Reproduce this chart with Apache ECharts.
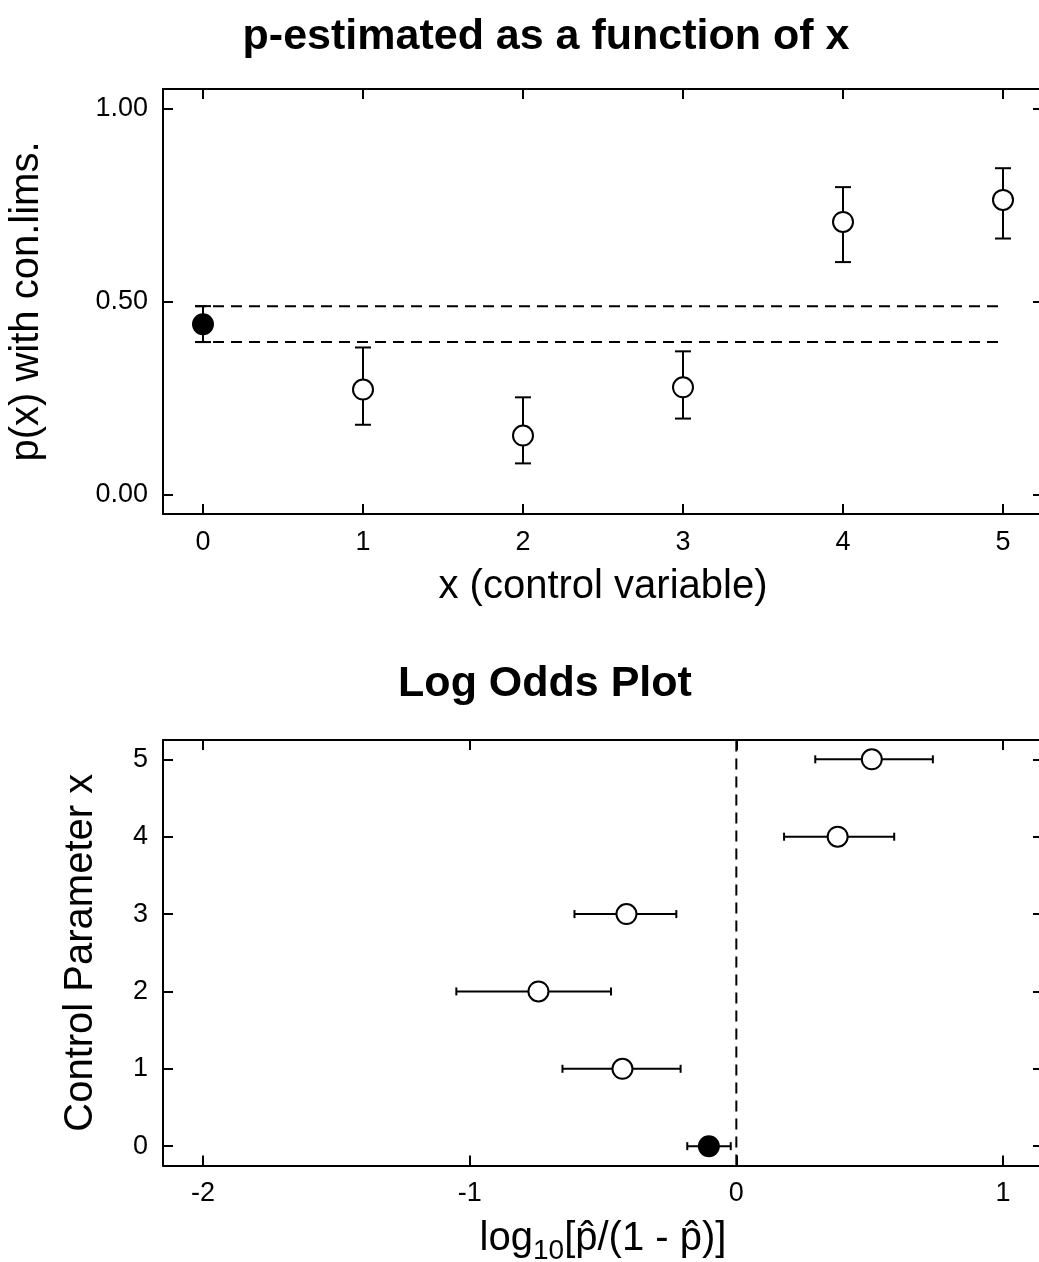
<!DOCTYPE html>
<html>
<head>
<meta charset="utf-8">
<script src="https://cdn.jsdelivr.net/npm/echarts@6/dist/echarts.min.js"></script>
<style>
  html, body { margin: 0; padding: 0; background: #fff; overflow: hidden; }
  #chart { width: 1046px; height: 1262px; }
</style>
</head>
<body>
<div id="chart"></div>
<script>
// Control variable levels; level 0 is the reference (drawn filled)
const xValues = [0, 1, 2, 3, 4, 5];
// Estimated proportion with lower / upper confidence limits
const pHat   = [0.441, 0.272, 0.153, 0.278, 0.706, 0.763];
const pLower = [0.395, 0.181, 0.081, 0.197, 0.602, 0.663];
const pUpper = [0.488, 0.381, 0.252, 0.371, 0.796, 0.845];
// Log odds log10[p/(1-p)] with limits
const logOdds  = [-0.103, -0.427, -0.742, -0.412, 0.380, 0.508];
const logLower = [-0.184, -0.652, -1.050, -0.607, 0.179, 0.296];
const logUpper = [-0.021, -0.209, -0.470, -0.225, 0.592, 0.737];
// Tick values
const pTicks = [0, 0.5, 1];
const xTicks = [0, 1, 2, 3, 4, 5];
const logTicks = [-2, -1, 0, 1];
const paramTicks = [0, 1, 2, 3, 4, 5];
const refIndex = 0;

const FONT = "'Liberation Sans', Arial, Helvetica, sans-serif";
const BLACK = '#000';

function frameAxis(extra) {
  return Object.assign({
    type: 'value',
    axisLine: { show: true, onZero: false, lineStyle: { color: BLACK, width: 2 } },
    axisTick: { show: true, inside: true, length: 10, lineStyle: { color: BLACK, width: 2 } },
    axisLabel: { show: false },
    splitLine: { show: false }
  }, extra);
}
function withTicks(ax, values, labels, fmt) {
  ax.axisTick.customValues = values;
  if (labels) {
    ax.axisLabel = {
      show: true, customValues: values, margin: 15,
      fontFamily: FONT, fontSize: 27, color: BLACK,
      formatter: fmt || (v => String(v))
    };
  }
  return ax;
}

const nameStyle = { fontFamily: FONT, fontSize: 40, color: BLACK };

// Vertical error bars (top panel)
function vBars(params, api) {
  const x = api.value(0), lo = api.coord([x, api.value(1)]), hi = api.coord([x, api.value(2)]);
  const cap = 8;
  const st = { stroke: BLACK, lineWidth: 2 };
  return { type: 'group', children: [
    { type: 'line', shape: { x1: lo[0], y1: lo[1], x2: hi[0], y2: hi[1] }, style: st },
    { type: 'line', shape: { x1: lo[0] - cap, y1: lo[1], x2: lo[0] + cap, y2: lo[1] }, style: st },
    { type: 'line', shape: { x1: hi[0] - cap, y1: hi[1], x2: hi[0] + cap, y2: hi[1] }, style: st }
  ]};
}
// Horizontal error bars (bottom panel)
function hBars(params, api) {
  const y = api.value(2), lo = api.coord([api.value(0), y]), hi = api.coord([api.value(1), y]);
  const cap = 4;
  const st = { stroke: BLACK, lineWidth: 2 };
  return { type: 'group', children: [
    { type: 'line', shape: { x1: lo[0], y1: lo[1], x2: hi[0], y2: hi[1] }, style: st },
    { type: 'line', shape: { x1: lo[0], y1: lo[1] - cap, x2: lo[0], y2: lo[1] + cap }, style: st },
    { type: 'line', shape: { x1: hi[0], y1: hi[1] - cap, x2: hi[0], y2: hi[1] + cap }, style: st }
  ]};
}

function pointStyle(i) {
  return i === refIndex
    ? { color: BLACK, borderColor: BLACK, borderWidth: 2, opacity: 1 }
    : { color: '#fff', borderColor: BLACK, borderWidth: 2, opacity: 1 };
}

const topPoints = xValues.map((x, i) => ({ value: [x, pHat[i]], itemStyle: pointStyle(i) }));
const topBars = xValues.map((x, i) => [x, pLower[i], pUpper[i]]);
const botPoints = paramTicks.map((y, i) => ({ value: [logOdds[i], y], itemStyle: pointStyle(i) }));
const botBars = paramTicks.map((y, i) => [logLower[i], logUpper[i], y]);

const dashStyle = { color: BLACK, width: 2, type: [11, 7] };

const option = {
  animation: false,
  backgroundColor: '#fff',
  graphic: [
    { type: 'text', x: 546, y: 37, style: { text: 'p-estimated as a function of x', font: 'bold 43px ' + FONT, fill: BLACK, textAlign: 'center', textVerticalAlign: 'middle' } },
    { type: 'text', x: 545, y: 684, style: { text: 'Log Odds Plot', font: 'bold 43px ' + FONT, fill: BLACK, textAlign: 'center', textVerticalAlign: 'middle' } }
  ],
  grid: [
    { left: 163, top: 89, width: 880, height: 425, containLabel: false, outerBoundsMode: 'none' },
    { left: 163, top: 740, width: 880, height: 425.5, containLabel: false, outerBoundsMode: 'none' }
  ],
  xAxis: [
    withTicks(frameAxis({ gridIndex: 0, position: 'bottom', min: -0.25, max: 5.25,
      name: 'x (control variable)', nameLocation: 'middle', nameGap: 53, nameTextStyle: nameStyle }), xTicks, true),
    withTicks(frameAxis({ gridIndex: 0, position: 'top', min: -0.25, max: 5.25 }), xTicks, false),
    withTicks(frameAxis({ gridIndex: 1, position: 'bottom', min: -2.15, max: 1.15,
      name: '{m|log}{s|10}{m|[p̂/(1 - p̂)]}', nameLocation: 'middle', nameGap: 53,
      nameTextStyle: { fontFamily: FONT, color: BLACK, rich: {
        m: { fontFamily: FONT, fontSize: 40, lineHeight: 42, color: BLACK, verticalAlign: 'top' },
        s: { fontFamily: FONT, fontSize: 28, lineHeight: 28, color: BLACK, verticalAlign: 'top', padding: [19, 0, 0, 0] }
      } } }), logTicks, true),
    withTicks(frameAxis({ gridIndex: 1, position: 'top', min: -2.15, max: 1.15 }), logTicks, false)
  ],
  yAxis: [
    withTicks(frameAxis({ gridIndex: 0, position: 'left', min: -0.05, max: 1.05,
      name: 'p(x) with con.lims.', nameLocation: 'middle', nameGap: 116, nameTextStyle: nameStyle }),
      pTicks, true, v => v.toFixed(2)),
    withTicks(frameAxis({ gridIndex: 0, position: 'right', min: -0.05, max: 1.05 }), pTicks, false),
    withTicks(frameAxis({ gridIndex: 1, position: 'left', min: -0.25, max: 5.25,
      name: 'Control Parameter x', nameLocation: 'middle', nameGap: 62, nameTextStyle: nameStyle }),
      paramTicks, true),
    withTicks(frameAxis({ gridIndex: 1, position: 'right', min: -0.25, max: 5.25 }), paramTicks, false)
  ],
  series: [
    // reference band from the level-0 confidence limits
    { type: 'line', xAxisIndex: 0, yAxisIndex: 0, symbol: 'none', silent: true,
      data: [[-0.05, pUpper[refIndex]], [xValues[xValues.length - 1], pUpper[refIndex]]], lineStyle: dashStyle, z: 1 },
    { type: 'line', xAxisIndex: 0, yAxisIndex: 0, symbol: 'none', silent: true,
      data: [[-0.05, pLower[refIndex]], [xValues[xValues.length - 1], pLower[refIndex]]], lineStyle: dashStyle, z: 1 },
    { type: 'custom', xAxisIndex: 0, yAxisIndex: 0, renderItem: vBars, data: topBars,
      encode: { x: 0, y: [1, 2] }, z: 2 },
    { type: 'scatter', xAxisIndex: 0, yAxisIndex: 0, symbol: 'circle', symbolSize: 20,
      data: topPoints, z: 3 },

    // zero log-odds reference
    { type: 'line', xAxisIndex: 2, yAxisIndex: 2, symbol: 'none', silent: true,
      data: [[0, -0.25], [0, 5.25]], lineStyle: dashStyle, z: 1 },
    { type: 'custom', xAxisIndex: 2, yAxisIndex: 2, renderItem: hBars, data: botBars,
      encode: { x: [0, 1], y: 2 }, z: 2 },
    { type: 'scatter', xAxisIndex: 2, yAxisIndex: 2, symbol: 'circle', symbolSize: 20,
      data: botPoints, z: 3 }
  ]
};

const chart = echarts.init(document.getElementById('chart'), null, { renderer: 'canvas' });
chart.setOption(option);
</script>
</body>
</html>
